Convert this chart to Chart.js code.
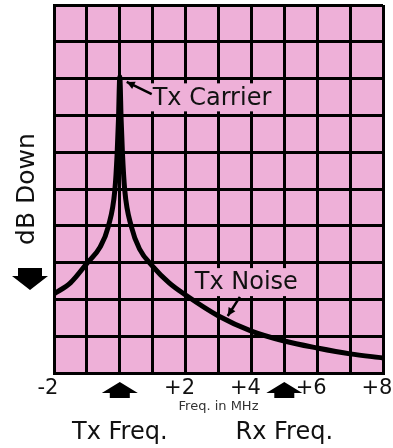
<!DOCTYPE html>
<html>
<head>
<meta charset="utf-8">
<script src="https://cdn.jsdelivr.net/npm/chart.js@4"></script>
<style>
  body { margin: 0; background: #fff; }
  #wrap { width: 393px; height: 448px; }
</style>
</head>
<body>
<div id="wrap"><canvas id="myChart"></canvas></div>
<script>
// spectrum (freq in MHz, level in dB down)
var freqs = [-2, -1.5, -1, -0.6, -0.35, -0.15, -0.08, -0.04, 0, 0.04, 0.08, 0.15, 0.35, 0.6, 1, 1.5, 2, 3, 4, 5, 6, 7, 8];
var levels = [-78.5, -75.5, -70.2, -65.8, -60.2, -50.3, -40.2, -31, -19.5, -31, -40.2, -50.3, -60.2, -66.3, -71, -75.5, -78.8, -84.5, -88.6, -91.3, -93.2, -94.8, -95.9];

var tickValues = [-2, 2, 4, 6, 8];
var tickText = ["-2", "+2", "+4", "+6", "+8"];

// Tx / Rx markers under the axis
var markerFreqs = [0, 5];
var markerText = ["Tx Freq.", "Rx Freq."];

// callouts: text anchor (left, middle), arrow tail and arrow tip
var calloutText = ["Tx Carrier", "Tx Noise"];
var calloutX = [1.0, 2.28];
var calloutY = [-25.1, -75.3];
var tailX = [0.97, 3.65];
var tailY = [-24.2, -79.3];
var tipX = [0.21, 3.28];
var tipY = [-20.9, -84.5];

var dbArrowTop = -71.5;

var PINK = "#EEB0D8";
var FONT = "'DejaVu Sans', sans-serif";

var xy = freqs.map(function (f, i) { return { x: f, y: levels[i] }; });

function arrowHead(ctx, x1, y1, x2, y2, len, wid) {
  var a = Math.atan2(y2 - y1, x2 - x1);
  ctx.beginPath();
  ctx.moveTo(x2, y2);
  ctx.lineTo(x2 - len * Math.cos(a) + wid * Math.sin(a), y2 - len * Math.sin(a) - wid * Math.cos(a));
  ctx.lineTo(x2 - len * Math.cos(a) - wid * Math.sin(a), y2 - len * Math.sin(a) + wid * Math.cos(a));
  ctx.closePath();
  ctx.fill();
}

var decor = {
  id: "decor",
  beforeDraw: function (chart) {
    var a = chart.chartArea, ctx = chart.ctx;
    ctx.save();
    ctx.fillStyle = PINK;
    ctx.fillRect(a.left, a.top, a.right - a.left, a.bottom - a.top);
    ctx.restore();
  },
  beforeDatasetsDraw: function (chart) {
    var ctx = chart.ctx, xs = chart.scales.x, ys = chart.scales.y;
    ctx.save();
    ctx.font = "24px " + FONT;
    ctx.textBaseline = "middle";
    ctx.textAlign = "left";
    for (var i = 0; i < calloutText.length; i++) {
      var px = xs.getPixelForValue(calloutX[i]);
      var py = ys.getPixelForValue(calloutY[i]);
      var w = ctx.measureText(calloutText[i]).width;
      ctx.fillStyle = PINK;
      ctx.fillRect(px - 4, py - 14, w + 8, 28);
      ctx.fillStyle = "#111";
      ctx.fillText(calloutText[i], px, py + 1);
      var x1 = xs.getPixelForValue(tailX[i]), y1 = ys.getPixelForValue(tailY[i]);
      var x2 = xs.getPixelForValue(tipX[i]), y2 = ys.getPixelForValue(tipY[i]);
      ctx.strokeStyle = "#000";
      ctx.lineWidth = 2.5;
      ctx.beginPath();
      ctx.moveTo(x1, y1);
      ctx.lineTo(x2, y2);
      ctx.stroke();
      ctx.fillStyle = "#000";
      arrowHead(ctx, x1, y1, x2, y2, 8, 4);
    }
    ctx.restore();
  },
  afterDraw: function (chart) {
    var ctx = chart.ctx, xs = chart.scales.x, ys = chart.scales.y, a = chart.chartArea;
    ctx.save();
    ctx.fillStyle = "#000";
    // block arrows under the axis
    markerFreqs.forEach(function (f, i) {
      var cx = xs.getPixelForValue(f), t = a.bottom + 9;
      ctx.beginPath();
      ctx.moveTo(cx, t);
      ctx.lineTo(cx + 18, t + 11);
      ctx.lineTo(cx + 10, t + 11);
      ctx.lineTo(cx + 10, t + 16);
      ctx.lineTo(cx - 10, t + 16);
      ctx.lineTo(cx - 10, t + 11);
      ctx.lineTo(cx - 18, t + 11);
      ctx.closePath();
      ctx.fill();
      ctx.font = "24px " + FONT;
      ctx.textAlign = "center";
      ctx.textBaseline = "middle";
      ctx.fillStyle = "#111";
      ctx.fillText(markerText[i], cx, a.bottom + 60);
      ctx.fillStyle = "#000";
    });
    // down arrow under the dB Down title
    var dx = ys.left + 30, dt = ys.getPixelForValue(dbArrowTop);
    ctx.beginPath();
    ctx.moveTo(dx - 12, dt);
    ctx.lineTo(dx + 12, dt);
    ctx.lineTo(dx + 12, dt + 8);
    ctx.lineTo(dx + 18, dt + 8);
    ctx.lineTo(dx, dt + 22);
    ctx.lineTo(dx - 18, dt + 8);
    ctx.lineTo(dx - 12, dt + 8);
    ctx.closePath();
    ctx.fill();
    ctx.restore();
  }
};

new Chart("myChart", {
  type: "line",
  data: {
    datasets: [{
      data: xy,
      borderColor: "#000",
      borderWidth: 5,
      pointRadius: 0,
      fill: false,
      cubicInterpolationMode: "monotone",
      borderCapStyle: "round",
      borderJoinStyle: "round"
    }]
  },
  options: {
    responsive: true,
    maintainAspectRatio: false,
    animation: false,
    layout: { padding: { top: 5, right: 10, left: 0, bottom: 0 } },
    plugins: {
      legend: { display: false },
      tooltip: { enabled: false }
    },
    scales: {
      x: {
        type: "linear",
        min: -2,
        max: 8,
        grid: { color: "#000", lineWidth: 3, drawTicks: false },
        border: { color: "#000", width: 3 },
        ticks: {
          stepSize: 1,
          autoSkip: false,
          maxRotation: 0,
          padding: 3,
          labelOffset: -6,
          color: "#111",
          font: { family: FONT, size: 21, lineHeight: 1.2 },
          callback: function (v) {
            var k = tickValues.indexOf(v);
            return k >= 0 ? tickText[k] : "";
          }
        },
        title: {
          display: true,
          text: "Freq. in MHz",
          color: "#333",
          font: { family: FONT, size: 13, lineHeight: 1.2 },
          padding: { top: 0, bottom: 34 }
        },
        afterFit: function (s) { s.paddingLeft = 0; s.paddingRight = 0; s.height = 75; }
      },
      y: {
        min: -100,
        max: 0,
        grid: { color: "#000", lineWidth: 3, drawTicks: false },
        border: { color: "#000", width: 3 },
        ticks: { stepSize: 10, display: false },
        title: {
          display: true,
          text: "dB Down",
          color: "#111",
          font: { family: FONT, size: 25, lineHeight: 1.2 },
          padding: { top: 12, bottom: 0 }
        },
        afterFit: function (s) { s.width = 54; }
      }
    }
  },
  plugins: [decor]
});
</script>
</body>
</html>
